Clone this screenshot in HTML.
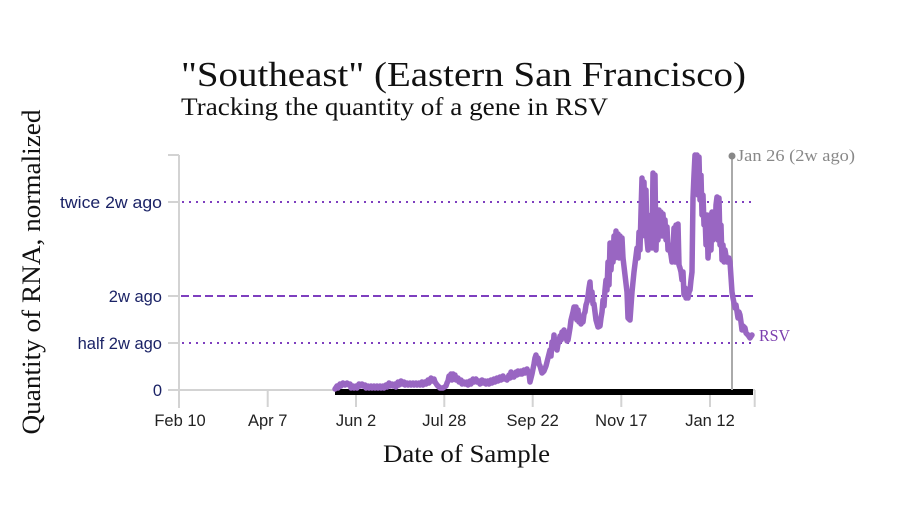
<!DOCTYPE html>
<html>
<head>
<meta charset="utf-8">
<style>
  html, body { margin: 0; padding: 0; background: #ffffff; }
  svg { display: block; }
</style>
</head>
<body>
<svg width="900" height="512" viewBox="0 0 900 512" xmlns="http://www.w3.org/2000/svg">
  <rect x="0" y="0" width="900" height="512" fill="#ffffff"/>

  <!-- Titles -->
  <text x="181" y="86" font-family="'Liberation Serif', serif" font-size="35" fill="#111" textLength="565" lengthAdjust="spacingAndGlyphs">"Southeast" (Eastern San Francisco)</text>
  <text x="181" y="115" font-family="'Liberation Serif', serif" font-size="25" fill="#111" textLength="427" lengthAdjust="spacingAndGlyphs">Tracking the quantity of a gene in RSV</text>

  <!-- Axis titles -->
  <text transform="translate(40,272) rotate(-90)" text-anchor="middle" font-family="'Liberation Serif', serif" font-size="26" fill="#111" textLength="325" lengthAdjust="spacingAndGlyphs">Quantity of RNA, normalized</text>
  <text x="466.5" y="462" text-anchor="middle" font-family="'Liberation Serif', serif" font-size="25" fill="#111" textLength="167" lengthAdjust="spacingAndGlyphs">Date of Sample</text>

  <!-- Y axis -->
  <g stroke="#d3d3d3" stroke-width="2" fill="none">
    <line x1="179" y1="155" x2="179" y2="408"/>
    <line x1="168" y1="155" x2="179" y2="155"/>
    <line x1="168" y1="202" x2="179" y2="202"/>
    <line x1="168" y1="296" x2="179" y2="296"/>
    <line x1="168" y1="343" x2="179" y2="343"/>
    <line x1="168" y1="390" x2="179" y2="390"/>
    <!-- X axis -->
    <line x1="179" y1="390" x2="755" y2="390"/>
    <line x1="267.7" y1="390" x2="267.7" y2="407"/>
    <line x1="356" y1="390" x2="356" y2="407"/>
    <line x1="444.3" y1="390" x2="444.3" y2="407"/>
    <line x1="532.7" y1="390" x2="532.7" y2="407"/>
    <line x1="621.3" y1="390" x2="621.3" y2="407"/>
    <line x1="710" y1="390" x2="710" y2="407"/>
    <line x1="754.7" y1="390" x2="754.7" y2="407"/>
  </g>

  <!-- Y tick labels -->
  <g font-family="'Liberation Sans', sans-serif" font-size="16.5" fill="#1b2366" text-anchor="end">
    <text x="162" y="208" textLength="102" lengthAdjust="spacingAndGlyphs">twice 2w ago</text>
    <text x="162" y="302">2w ago</text>
    <text x="162" y="349">half 2w ago</text>
    <text x="162" y="396">0</text>
  </g>

  <!-- X tick labels -->
  <g font-family="'Liberation Sans', sans-serif" font-size="16.5" fill="#222" text-anchor="middle">
    <text x="180" y="426">Feb 10</text>
    <text x="267.7" y="426">Apr 7</text>
    <text x="356" y="426">Jun 2</text>
    <text x="444.3" y="426">Jul 28</text>
    <text x="532.7" y="426">Sep 22</text>
    <text x="621.3" y="426">Nov 17</text>
    <text x="710" y="426">Jan 12</text>
  </g>

  <!-- Reference lines -->
  <line x1="182" y1="202" x2="751" y2="202" stroke="#7e3fbf" stroke-width="2" stroke-dasharray="2,5"/>
  <line x1="182" y1="343" x2="751" y2="343" stroke="#7e3fbf" stroke-width="2" stroke-dasharray="2,5"/>
  <line x1="181" y1="296" x2="755" y2="296" stroke="#7e3fbf" stroke-width="2" stroke-dasharray="8,4"/>

  <!-- Black baseline bar -->
  <rect x="335" y="389" width="418" height="6" fill="#000"/>

  <!-- Jan 26 marker -->
  <line x1="732" y1="156" x2="732" y2="390" stroke="#aaaaaa" stroke-width="2"/>
  <circle cx="732" cy="156" r="3.5" fill="#888"/>
  <text x="737" y="161" font-family="'Liberation Serif', serif" font-size="17" fill="#888" textLength="118" lengthAdjust="spacingAndGlyphs">Jan 26 (2w ago)</text>

  <!-- Series -->
  <polyline fill="none" stroke="#9966c2" stroke-width="5.5" stroke-linejoin="round" stroke-linecap="round"
    points="335,389 337,386 338,388 340,384 341,386 343,383 345,385 347,383 349,385 350,384 351,388 353,386 354,388 356,386 357,388 359,384 360,386 362,384 363,386 365,385 366,388 368,386 369,388 371,386 372,388 374,386 375,388 377,386 378,388 380,386 381,388 383,386 384,388 386,385 387,387 389,383 390,386 392,384 393,386 395,384 396,387 398,382 399,385 401,381 402,384 404,382 405,385 407,383 408,385 410,383 411,385 413,383 414,385 416,383 417,385 419,383 420,385 422,382 423,385 425,382 426,384 428,380 429,383 431,378 432,381 434,379 435,382 437,385 440,388 443,388 446,386 447,383 448,381 449,376 450,378 451,374 452,380 453,374 454,379 455,375 456,380 458,378 459,382 461,380 462,384 464,382 465,384 467,382 468,385 470,381 471,384 473,379 474,382 476,379 477,382 479,381 480,384 482,380 483,383 485,381 486,384 488,381 489,384 491,380 492,383 494,379 495,382 497,378 498,381 500,377 501,380 503,376 504,379 506,378 507,380 509,375 510,378 511,372 512,377 513,374 514,377 516,372 517,375 518,371 520,374 521,371 522,374 524,370 525,373 527,369 528,372 529,373 530,382 532,374 534,364 535,358 536,355 537,360 538,358 539,364 540,366 542,373 544,371 546,366 548,358 549,354 550,350 551,356 552,342 553,348 554,335 555,346 556,344 557,350 558,344 559,342 560,336 561,340 562,332 563,338 564,330 565,334 566,336 567,341 568,340 569,334 570,328 571,320 572,316 573,312 574,307 575,318 576,307 577,320 578,310 579,322 580,318 581,324 582,320 583,322 584,314 585,312 586,305 587,302 588,296 589,288 590,282 591,300 592,292 593,304 594,304 596,320 598,327 600,326 601,318 602,312 603,300 604,306 605,290 606,280 607,290 608,262 609,285 610,243 611,270 612,250 613,262 614,236 615,258 616,231 617,250 618,234 619,258 620,236 621,250 622,238 623,258 625,275 627,292 628,318 630,320 632,292 634,272 636,256 637,248 638,258 639,232 640,250 641,212 642,178 643,230 644,182 645,236 646,190 647,240 648,250 649,236 650,245 651,215 652,248 653,173 654,240 655,175 656,250 657,210 658,240 659,210 660,232 661,212 662,236 663,214 664,230 665,220 666,240 667,227 668,250 669,245 671,255 672,262 673,250 674,228 675,262 676,225 677,262 678,224 679,265 680,268 681,272 682,280 683,272 684,295 685,288 686,298 687,290 688,298 689,292 690,290 691,280 692,272 693,198 694,175 695,155 696,190 697,155 698,195 699,157 700,200 701,175 702,215 703,195 704,225 705,215 706,245 707,215 708,258 709,245 710,215 711,250 712,212 713,240 714,215 715,238 716,205 717,197 718,240 719,198 720,245 721,225 722,260 723,245 724,262 725,250 727,262 729,258 730,262 732,292 733,298 735,308 736,305 738,318 739,312 740,315 741,322 742,330 743,326 745,328 746,333 748,335 750,338 752,335"/>

  <!-- Series label -->
  <text x="759" y="341" font-family="'Liberation Serif', serif" font-size="17" fill="#7b3fae" textLength="31" lengthAdjust="spacingAndGlyphs">RSV</text>
</svg>
</body>
</html>
